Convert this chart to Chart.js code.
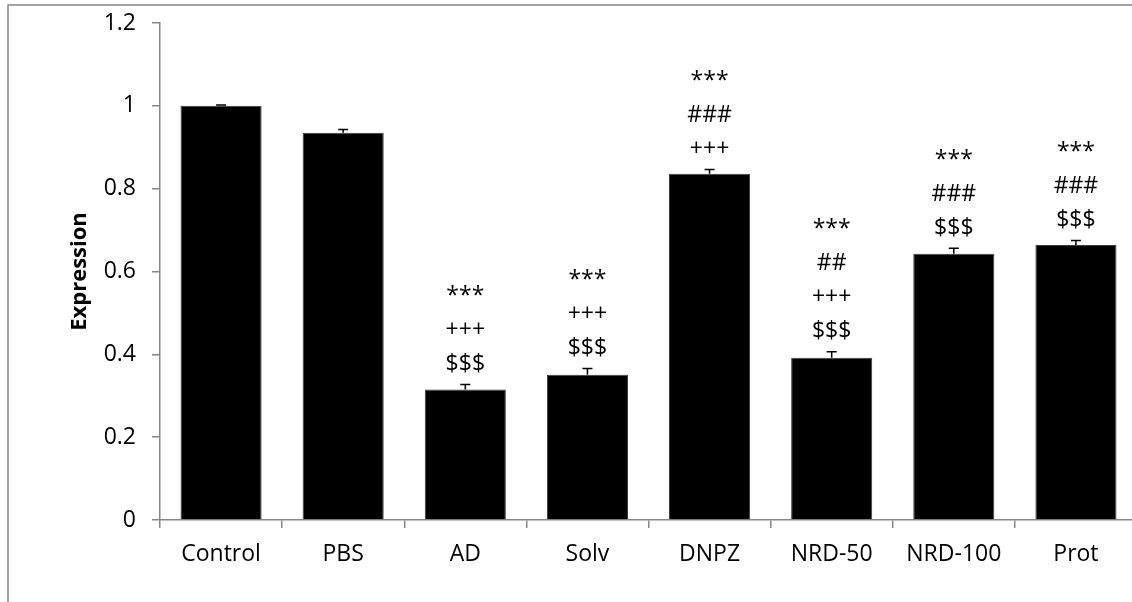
<!DOCTYPE html>
<html>
<head>
<meta charset="utf-8">
<script src="https://cdn.jsdelivr.net/npm/chart.js@4/dist/chart.umd.min.js"></script>
<style>
  html, body { margin: 0; padding: 0; background: #fff; overflow: hidden; }
  #wrap { position: relative; width: 1140px; height: 602px; }
</style>
</head>
<body>
<div id="wrap"><canvas id="expr-chart" width="1140" height="602"></canvas></div>
<script>
// data
const groups = ["Control", "PBS", "AD", "Solv", "DNPZ", "NRD-50", "NRD-100", "Prot"];
const expression = [1.0, 0.935, 0.315, 0.351, 0.836, 0.392, 0.643, 0.664];
const errors = [0.002, 0.008, 0.012, 0.015, 0.01, 0.014, 0.013, 0.011];
const marks = [
    [],
    [],
    ["***", "+++", "$$$"],
    ["***", "+++", "$$$"],
    ["***", "###", "+++"],
    ["***", "##", "+++", "$$$"],
    ["***", "###", "$$$"],
    ["***", "###", "$$$"]
];
const yTicks = [0, 0.2, 0.4, 0.6, 0.8, 1, 1.2];

const FONT = "'Open Sans', sans-serif";
const AXIS_GRAY = "#868686";

// outer frame (only top + left visible in the original)
const framePlugin = {
    id: 'frame',
    beforeDraw(chart) {
        const ctx = chart.ctx;
        ctx.save();
        ctx.strokeStyle = AXIS_GRAY;
        ctx.lineWidth = 1.5;
        ctx.beginPath();
        ctx.moveTo(8, chart.height);
        ctx.lineTo(8, 5);
        ctx.lineTo(chart.width, 5);
        ctx.stroke();
        ctx.restore();
    }
};

// error bars + significance marks
const errorPlugin = {
    id: 'errbars',
    afterDatasetsDraw(chart) {
        const ctx = chart.ctx;
        const y = chart.scales.y;
        const meta = chart.getDatasetMeta(0);
        ctx.save();
        ctx.strokeStyle = "#000";
        ctx.lineWidth = 1.5;
        meta.data.forEach(function (bar, i) {
            const top = y.getPixelForValue(expression[i] + errors[i]);
            const base = y.getPixelForValue(expression[i]);
            ctx.beginPath();
            ctx.moveTo(bar.x, base);
            ctx.lineTo(bar.x, top);
            ctx.moveTo(bar.x - 5, top);
            ctx.lineTo(bar.x + 5, top);
            ctx.stroke();

            const lines = marks[i];
            ctx.fillStyle = "#000";
            ctx.font = "23px " + FONT;
            ctx.textAlign = "center";
            ctx.textBaseline = "middle";
            for (let k = lines.length - 1; k >= 0; k--) {
                const ty = top - 20 - (lines.length - 1 - k) * 34;
                ctx.fillText(lines[k], bar.x, ty);
            }
        });
        ctx.restore();
    }
};

let ctx = document.getElementById("expr-chart").getContext("2d");
var exprChart = new Chart(ctx, {
    type: 'bar',
    data: {
        labels: groups,
        datasets: [
            {
                label: "Expression",
                data: expression,
                backgroundColor: "#000",
                borderColor: "#3a3a3a",
                borderWidth: 1,
                categoryPercentage: 1,
                barPercentage: 0.664
            }
        ]
    },
    options: {
        responsive: false,
        animation: false,
        layout: { padding: { left: 8, top: 23, right: 3, bottom: 0 } },
        plugins: {
            legend: { display: false },
            tooltip: { enabled: false }
        },
        scales: {
            x: {
                grid: {
                    offset: true,
                    drawOnChartArea: false,
                    color: AXIS_GRAY,
                    tickLength: 8,
                    lineWidth: 1.5
                },
                border: { color: AXIS_GRAY, width: 1.5 },
                ticks: {
                    color: "#000",
                    font: { family: FONT, size: 23 },
                    padding: 13,
                    maxRotation: 0
                },
                afterFit(scale) {
                    scale.height = 82;
                    scale.paddingLeft = 0;
                    scale.paddingRight = 0;
                }
            },
            y: {
                min: 0,
                max: 1.2,
                afterBuildTicks(scale) {
                    scale.ticks = yTicks.map(v => ({ value: v }));
                },
                grid: {
                    drawOnChartArea: false,
                    color: AXIS_GRAY,
                    tickLength: 8,
                    lineWidth: 1.5
                },
                border: { color: AXIS_GRAY, width: 1.5 },
                ticks: {
                    color: "#000",
                    font: { family: FONT, size: 23 },
                    padding: 16,
                    callback: v => String(parseFloat(v.toFixed(1)))
                },
                title: {
                    display: true,
                    text: "Expression",
                    color: "#000",
                    font: { family: FONT, size: 22, weight: 'bold' },
                    padding: { top: 59, bottom: 0 }
                },
                afterFit(scale) {
                    scale.width = 152;
                    scale.paddingTop = 0;
                    scale.paddingBottom = 0;
                }
            }
        }
    },
    plugins: [framePlugin, errorPlugin]
});
</script>
</body>
</html>
